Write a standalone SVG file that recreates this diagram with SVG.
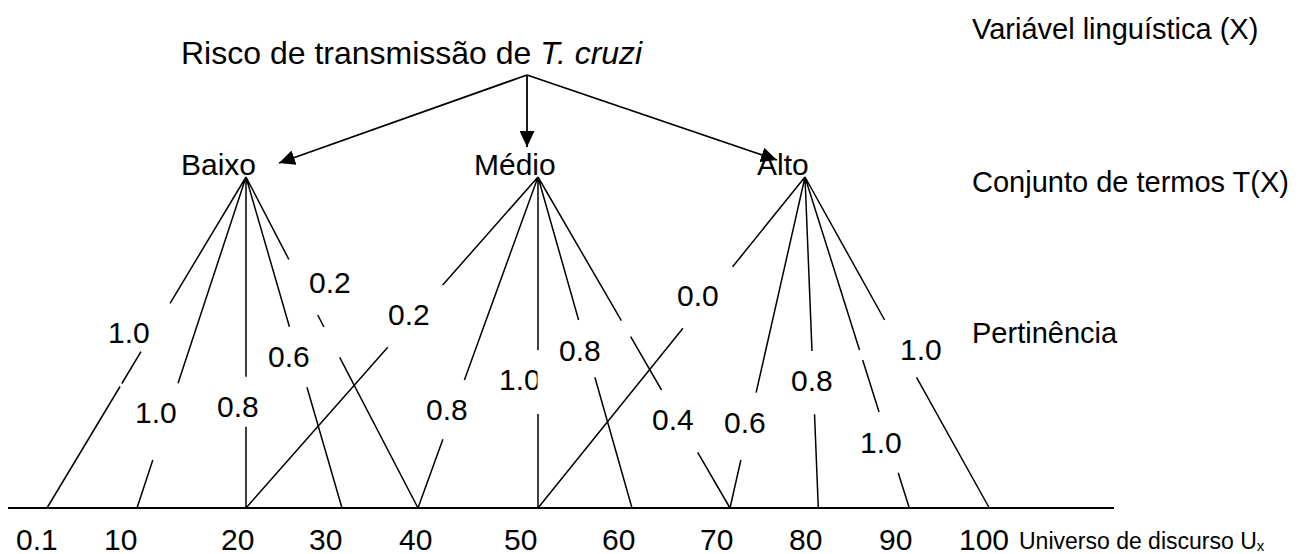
<svg xmlns="http://www.w3.org/2000/svg" width="1309" height="554" viewBox="0 0 1309 554">
  <defs>
    <marker id="arrow" markerUnits="userSpaceOnUse" markerWidth="17" markerHeight="15" refX="16" refY="7.5" orient="auto">
      <path d="M0,0 L16,7.5 L0,15 Z" fill="#000"/>
    </marker>
    <clipPath id="clipMid10">
      <rect x="480" y="340" width="57.5" height="60"/>
    </clipPath>
  </defs>
  <style>
    text { font-family: "Liberation Sans", Arial, sans-serif; fill: #000; }
    .big { font-size: 30px; }
    .title { font-size: 32px; }
    .side { font-size: 29px; }
    .num { font-size: 30px; }
    .small { font-size: 23px; }
    .ln { stroke: #000; stroke-width: 1.5; fill: none; }
    .arr { stroke: #000; stroke-width: 1.8; fill: none; }
    .axis { stroke: #000; stroke-width: 2.2; fill: none; }
  </style>
  <rect width="1309" height="554" fill="#fff"/>

  <g id="connectors">
    <line class="arr" x1="527" y1="75" x2="279" y2="163" marker-end="url(#arrow)"/>
    <line class="arr" x1="527" y1="75" x2="527" y2="147" marker-end="url(#arrow)"/>
    <line class="arr" x1="527" y1="75" x2="777" y2="160" marker-end="url(#arrow)"/>

    <path id="baixo-fan" class="ln" d="M246,177 L170.07,303.3 M140.97,351.7 L121.85,383.5 M120.05,386.5 L47,508
      M246,177 L178.06,383.3 M152.81,460 L137,508
      M246,177 L246,376.7 M246,426.7 L246,508
      M246,177 L289.42,326.7 M306.99,387.3 L342,508
      M246,177 L288.87,259.5 M317.71,315 L323.95,327 M339.69,357.3 L418,508"/>
    <path id="medio-fan" class="ln" d="M538,177 L442.72,285 M387.76,347.3 L246,508
      M538,177 L464.4,380 M442.91,439.3 L418,508
      M538,177 L538,350 M538,414 L538,508
      M538,177 L578.61,320 M594.88,377.3 L632,508
      M538,177 L621.35,320.7 M630.64,336.7 L661.55,390 M697.69,452.3 L730,508"/>
    <path id="alto-fan" class="ln" d="M805,177 L732.64,266.7 M682.95,328.3 L538,508
      M805,177 L756.12,392.7 M740.88,460 L730,508
      M805,177 L811.99,351 M814.53,414.3 L818.3,508
      M805,177 L859.51,350 M862.67,360 L879.05,412 M898.18,472.7 L909.3,508
      M805,177 L884.62,320 M916.53,377.3 L989.3,508"/>
    <line class="axis" x1="8" y1="508" x2="1114" y2="508"/>
  </g>

  <g id="node-title">
    <text class="title" x="181" y="64">Risco de transmissão de <tspan font-style="italic">T. cruzi</tspan></text>
  </g>
  <g id="node-baixo">
    <text class="big" x="181" y="175">Baixo</text>
  </g>
  <g id="node-medio">
    <text class="big" x="474" y="175">Médio</text>
  </g>
  <g id="node-alto">
    <text class="big" x="757" y="175">Alto</text>
  </g>

  <g id="side-labels">
    <text class="side" x="972" y="39">Variável linguística (X)</text>
    <text class="side" x="972" y="192">Conjunto de termos T(X)</text>
    <text class="side" x="972" y="343">Pertinência</text>
  </g>

  <g id="membership-labels">
    <text class="num" x="108" y="343">1.0</text>
    <text class="num" x="135" y="423">1.0</text>
    <text class="num" x="217" y="417">0.8</text>
    <text class="num" x="268" y="367">0.6</text>
    <text class="num" x="309" y="293">0.2</text>
    <text class="num" x="388" y="325">0.2</text>
    <text class="num" x="426" y="420">0.8</text>
    <text class="num" x="499" y="390" clip-path="url(#clipMid10)">1.0</text>
    <text class="num" x="559" y="361">0.8</text>
    <text class="num" x="652" y="430">0.4</text>
    <text class="num" x="677" y="306">0.0</text>
    <text class="num" x="724" y="433">0.6</text>
    <text class="num" x="791" y="391">0.8</text>
    <text class="num" x="900" y="360">1.0</text>
    <text class="num" x="860" y="453">1.0</text>
  </g>

  <g id="axis-labels">
    <text class="num" x="16" y="550">0.1</text>
    <text class="num" x="104" y="550">10</text>
    <text class="num" x="221" y="550">20</text>
    <text class="num" x="309" y="550">30</text>
    <text class="num" x="399" y="550">40</text>
    <text class="num" x="504" y="550">50</text>
    <text class="num" x="602" y="550">60</text>
    <text class="num" x="700" y="550">70</text>
    <text class="num" x="789" y="550">80</text>
    <text class="num" x="879" y="550">90</text>
    <text class="num" x="959" y="550">100</text>
    <text class="small" x="1019" y="549">Universo de discurso U<tspan font-size="15" dy="2">x</tspan></text>
  </g>
</svg>
